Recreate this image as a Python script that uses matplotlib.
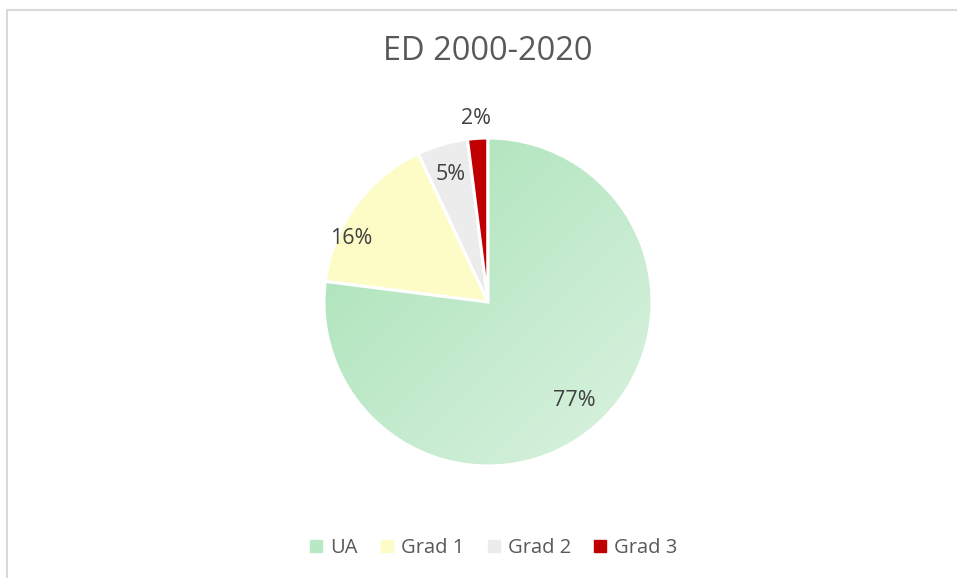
import numpy as np
import matplotlib.pyplot as plt
from matplotlib.patches import Rectangle
from matplotlib.colors import LinearSegmentedColormap

# Data
categories = ["UA", "Grad 1", "Grad 2", "Grad 3"]
shares = [77, 16, 5, 2]
colors = ["#b4e6c2", "#fdfcc6", "#ececec", "#c00000"]
# label placement (fraction of radius, angle nudge in degrees)
label_dist = [0.80, 0.92, 0.81, 1.12]
label_nudge = [0, 11, 0, 0]

plt.rcParams['font.family'] = ['Open Sans', 'DejaVu Sans']

W, H = 957, 578
fig = plt.figure(figsize=(W / 100, H / 100), dpi=100)

# chart border (cut off on the right and bottom)
fig.patches.append(Rectangle((7.5 / W, -0.1), 1.2, (H - 10.5) / H + 0.1,
                             transform=fig.transFigure, fill=False,
                             edgecolor="#d9d9d9", linewidth=1.5))

# pie axes placed in pixels: centre (488, 302), radius 164
r = 164
cx, cy = 488, H - 302
ax = fig.add_axes([(cx - r) / W, (cy - r) / H, 2 * r / W, 2 * r / H])

wedges, _ = ax.pie(shares, colors=colors, startangle=90, counterclock=False,
                   radius=1, wedgeprops=dict(edgecolor="white", linewidth=2.2))
ax.set_xlim(-1, 1)
ax.set_ylim(-1, 1)
ax.set_aspect("equal")
ax.axis("off")

# gradient fill on the UA wedge
cmap = LinearSegmentedColormap.from_list("ua", ["#a6e2b5", "#dbf2e1"])
xx, yy = np.meshgrid(np.linspace(-1, 1, 300), np.linspace(1, -1, 300))
grad = (xx - yy) / 2
img = ax.imshow(grad, cmap=cmap, extent=(-1, 1, -1, 1), origin="upper",
                zorder=wedges[0].get_zorder() + 0.1)
img.set_clip_path(wedges[0])
wedges[0].set_facecolor("none")
wedges[0].set_zorder(img.get_zorder() + 0.1)

# percentage labels
for w, s, d, n in zip(wedges, shares, label_dist, label_nudge):
    ang = np.deg2rad((w.theta1 + w.theta2) / 2 + n)
    ax.text(d * np.cos(ang), d * np.sin(ang), f"{s}%", ha="center", va="center",
            fontsize=15.5, color="#404040", zorder=10)

fig.text(cx / W, (H - 52) / H, "ED 2000-2020", ha="center", va="center",
         fontsize=23.5, color="#595959")

handles = [plt.Line2D([], [], marker="s", linestyle="", markersize=8,
                      markerfacecolor=c, markeredgecolor=c) for c in colors]
handles[0].set_markerfacecolor("#b8e8c4")
handles[0].set_markeredgecolor("#b8e8c4")
fig.legend(handles, categories, loc="center", bbox_to_anchor=(492 / W, (H - 548) / H),
           ncol=4, frameon=False, fontsize=14.5, labelcolor="#595959",
           handletextpad=0.2, columnspacing=0.95, handlelength=1.0)

fig.savefig("out.png", dpi=100, facecolor="white")
